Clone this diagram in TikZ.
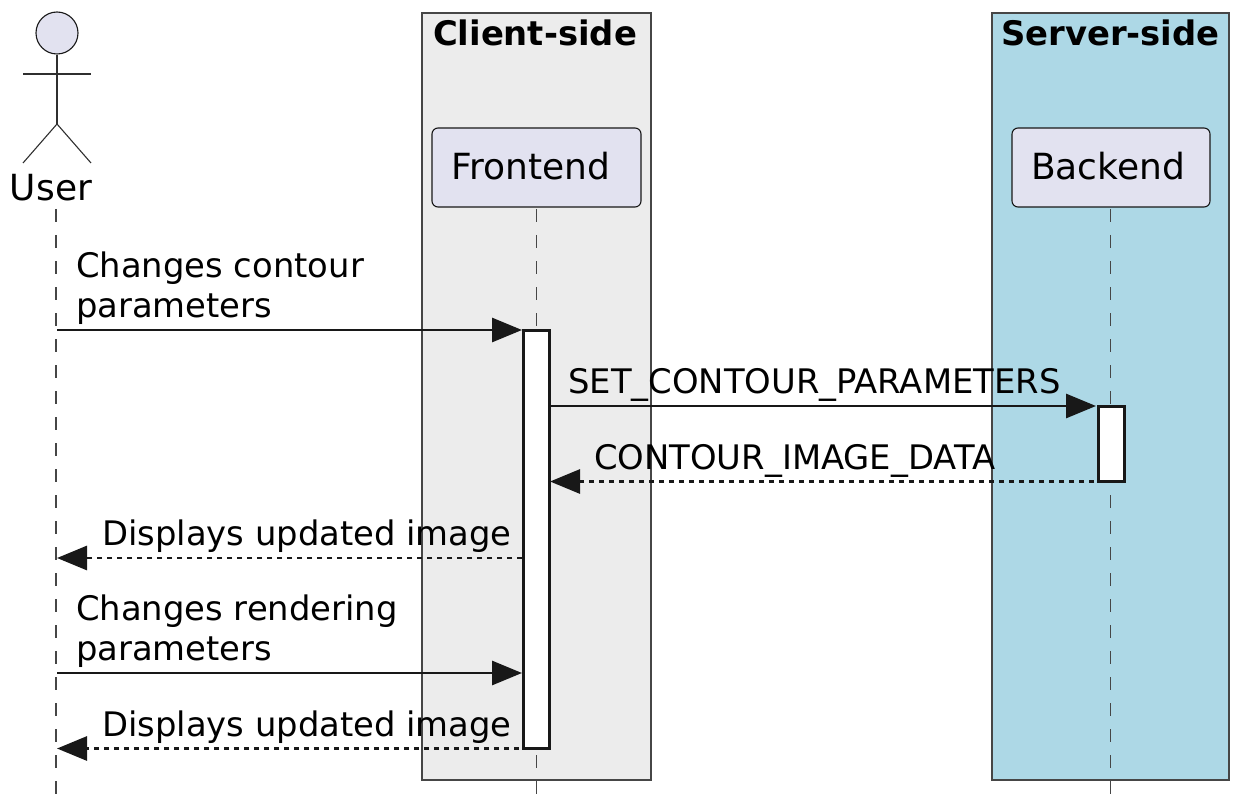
\documentclass[tikz,border=0pt]{standalone}
\usepackage{fontspec}
\setmainfont{DejaVu Sans}
\usetikzlibrary{arrows.meta}
\definecolor{partfill}{HTML}{E2E2F0}
\definecolor{clientfill}{HTML}{ECECEC}
\definecolor{serverfill}{HTML}{ADD8E6}
\definecolor{ink}{HTML}{181818}
\tikzset{
  groupbox/.style={draw=ink!80,line width=1.1pt,inner sep=0pt},
  grouptitle/.style={anchor=base,font=\fontsize{33.8}{40}\selectfont\bfseries},
  partbox/.style={draw=ink,fill=partfill,line width=1.1pt,rounded corners=6pt,inner sep=0pt,minimum width=#1,minimum height=79pt},
  parttext/.style={anchor=base,font=\fontsize{36}{42}\selectfont},
  bar/.style={draw=ink,fill=white,line width=3pt,inner sep=0pt,minimum width=26pt,minimum height=#1},
  lifeline/.style={draw=ink!80,line width=1.3pt,dash pattern=on 13pt off 13pt},
  stick/.style={draw=ink!90,line width=1.1pt},
  msg/.style={draw=ink,line width=2.9pt,-{Triangle[length=30pt,width=24pt]}},
  reply/.style={msg,dash pattern=on 5.5pt off 4.5pt},
  msgtext/.style={anchor=base west,inner sep=0pt,font=\fontsize{33.8}{39}\selectfont},
}
\begin{document}
\begin{tikzpicture}[x=1pt,y=-1pt]
\useasboundingbox (0,0) rectangle (1233,794);
      \node [groupbox,fill=clientfill,minimum width=229pt,minimum height=767pt] at (536.5,396.5) (client) {};
       \node [groupbox,fill=serverfill,minimum width=237pt,minimum height=767pt] at (1110.5,396.5) (server) {};
        \node [grouptitle] at (535,46) (clientT) {Client-side};
         \node [grouptitle] at (1110.5,46) (serverT) {Server-side};
%
          \coordinate (userTop) at (56,209);
           \coordinate (userEnd) at (56,794);
            \coordinate (frontTop) at (536.5,209);
             \coordinate (frontEnd) at (536.5,794);
              \coordinate (backTop) at (1110.7,209);
               \coordinate (backEnd) at (1110.7,794);
\draw[lifeline] (userTop) -- (userEnd);
\draw[lifeline] (frontTop) -- (frontEnd);
\draw[lifeline] (backTop) -- (backEnd);
%
      \node [partbox=209pt] at (536.5,167.5) (frontend) {};
       \node [partbox=198pt] at (1111,167.5) (backend) {};
        \node [parttext] at (530.5,180) (frontendT) {Frontend};
         \node [parttext] at (1108,180) (backendT) {Backend};
%
      \node [circle,draw=ink,fill=partfill,line width=1.1pt,inner sep=0pt,minimum size=42pt] at (57,33) (head) {};
       \coordinate (hip) at (57,124);
        \coordinate (armL) at (23,74);
         \coordinate (armR) at (91,74);
          \coordinate (footL) at (23,163);
           \coordinate (footR) at (91,163);
            \node [parttext] at (51,201) (user) {User};
\draw[stick] (head) -- (hip);
\draw[stick] (armL) -- (armR);
\draw[stick] (hip) -- (footL);
\draw[stick] (hip) -- (footR);
%
      \node [bar=418pt] at (536.3,539) (frontBar) {};
       \node [bar=75pt] at (1111,443.5) (backBar) {};
%
      \coordinate (m1a) at (57,330);
       \coordinate (m1b) at (522,330);
        \coordinate (m2a) at (549.5,406);
         \coordinate (m2b) at (1096,406);
          \coordinate (m3a) at (1124,481.5);
           \coordinate (m3b) at (550,481.5);
            \coordinate (m4a) at (522,558);
             \coordinate (m4b) at (57,558);
              \coordinate (m5a) at (57,673);
               \coordinate (m5b) at (522,673);
                \coordinate (m6a) at (549,748.5);
                 \coordinate (m6b) at (57,748.5);
\draw[msg] (m1a) -- (m1b);
\draw[msg] (m2a) -- (m2b);
\draw[reply] (m3a) -- (m3b);
\draw[reply] (m4a) -- (m4b);
\draw[msg] (m5a) -- (m5b);
\draw[reply] (m6a) -- (m6b);
%
      \node [msgtext] at (76,277) (t1a) {Changes contour};
       \node [msgtext] at (76,317) (t1b) {parameters};
        \node [msgtext] at (568,393) (t2) {SET\_CONTOUR\_PARAMETERS};
         \node [msgtext] at (594,469) (t3) {CONTOUR\_IMAGE\_DATA};
          \node [msgtext] at (102,545) (t4) {Displays updated image};
           \node [msgtext] at (76,620) (t5a) {Changes rendering};
            \node [msgtext] at (76,660) (t5b) {parameters};
             \node [msgtext] at (102,736) (t6) {Displays updated image};
\end{tikzpicture}
\end{document}
